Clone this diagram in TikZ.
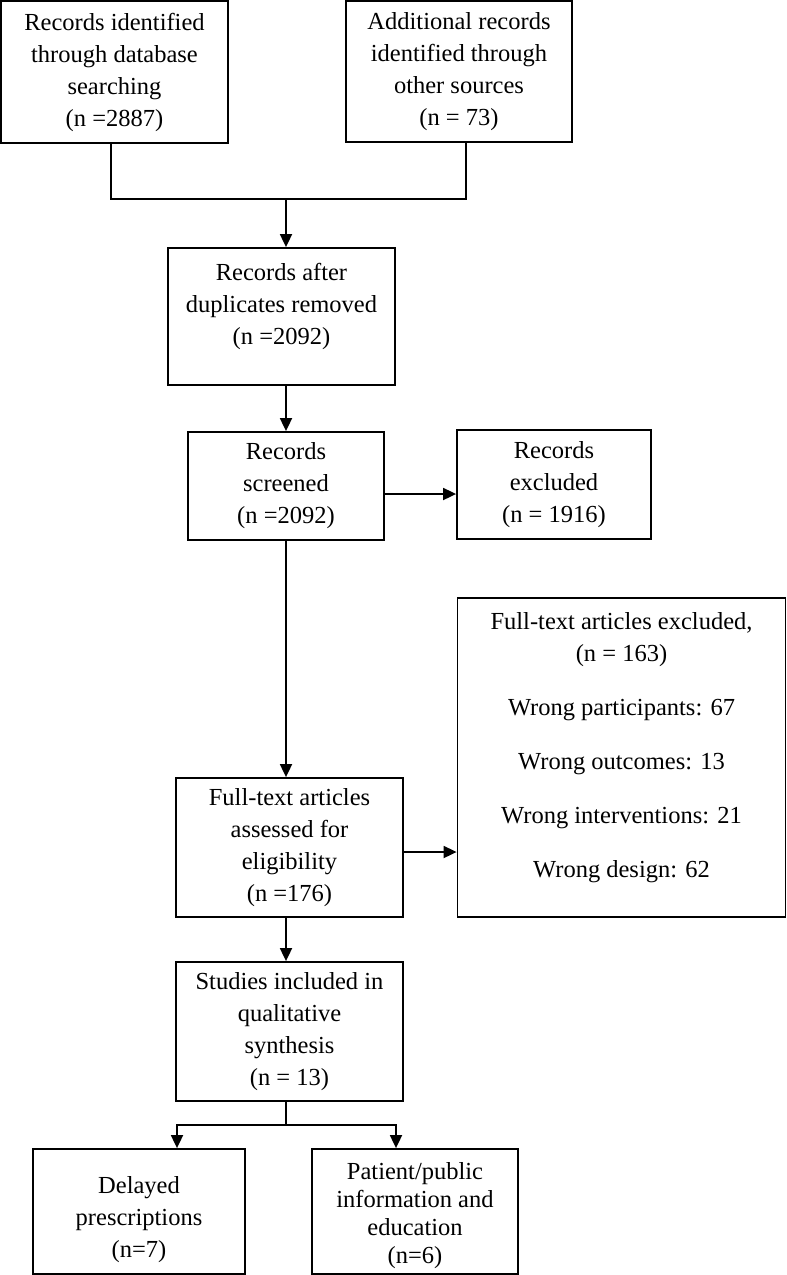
\documentclass[tikz,border=0pt]{standalone}
\usepackage{fontspec}
\setmainfont{Liberation Serif}
\usetikzlibrary{arrows.meta}
\begin{document}
\begin{tikzpicture}[x=1pt,y=-1pt,
  box/.style={draw, line width=1.8pt, align=center, inner sep=0pt,
    font=\fontsize{24.5}{32}\selectfont},
  lbl/.style={align=center, inner sep=0pt, font=\fontsize{24.5}{32}\selectfont},
  conn/.style={line width=1.8pt},
  arr/.style={line width=1.8pt, -{Triangle[length=13pt,width=12pt]}}]
\useasboundingbox (0,0) rectangle (787,1275);
\node[box, minimum width=227pt, minimum height=142pt] (b1) at (114.5,72) {Records identified\\through database\\searching\\(n =2887)};
\node[box, minimum width=226pt, minimum height=141pt] (b2) at (459,71.5) {Additional records\\identified through\\other sources\\(n = 73)};
\node[box, minimum width=227pt, minimum height=137pt,
  label={[lbl, yshift=10pt]center:{Records after\\duplicates removed\\(n =2092)}}] (b3) at (281.5,316.5) {};
\node[box, minimum width=196pt, minimum height=108pt] (b4) at (286,486) {Records\\screened\\(n =2092)};
\node[box, minimum width=194pt, minimum height=109pt] (b5) at (554,484.5) {Records\\excluded\\(n = 1916)};
\node[box, minimum width=328pt, minimum height=319pt,
  label={[lbl, yshift=9.5pt]center:{Full-text articles excluded,\\(n = 163)\\[22pt]Wrong participants: 67\\[22pt]Wrong outcomes: 13\\[22pt]Wrong interventions: 21\\[22pt]Wrong design: 62}}] (b6) at (621.5,757.5) {};
\node[box, minimum width=227pt, minimum height=139pt] (b7) at (289.5,847.5) {Full-text articles\\assessed for\\eligibility\\(n =176)};
\node[box, minimum width=227pt, minimum height=139pt] (b8) at (289.5,1031.5) {Studies included in\\qualitative\\synthesis\\(n = 13)};
\node[box, minimum width=212pt, minimum height=125pt,
  label={[lbl, yshift=-8pt]center:{Delayed\\prescriptions\\(n=7)}}] (b9) at (139,1211.5) {};
\node[box, minimum width=206pt, minimum height=125pt,
  label={[lbl, yshift=-4pt, font=\fontsize{24.5}{28}\selectfont]center:{Patient/public\\information and\\education\\(n=6)}}] (b10) at (415,1211.5) {};
\coordinate (m) at (286,199);
\coordinate (s) at (286,1125);
\draw[conn] ([xshift=-3.5pt]b1.south) |- (m) -| ([xshift=7pt]b2.south);
\draw[arr] (m) -- (m |- b3.north);
\draw[arr] (b3.south -| b4.north) -- (b4.north);
\draw[arr] ([yshift=-8pt]b4.east) -- ([yshift=-8pt]b4.east -| b5.west);
\draw[arr] (b4.south) -- (b4.south |- b7.north);
\draw[arr] ([yshift=-4.5pt]b7.east) -- ([yshift=-4.5pt]b7.east -| b6.west);
\draw[arr] (b7.south -| m) -- (b8.north -| m);
\draw[conn] (b8.south -| s) -- (s);
\draw[arr] (s) -| ([xshift=38pt]b9.north);
\draw[arr] (s) -| ([xshift=-19pt]b10.north);
\end{tikzpicture}
\end{document}
